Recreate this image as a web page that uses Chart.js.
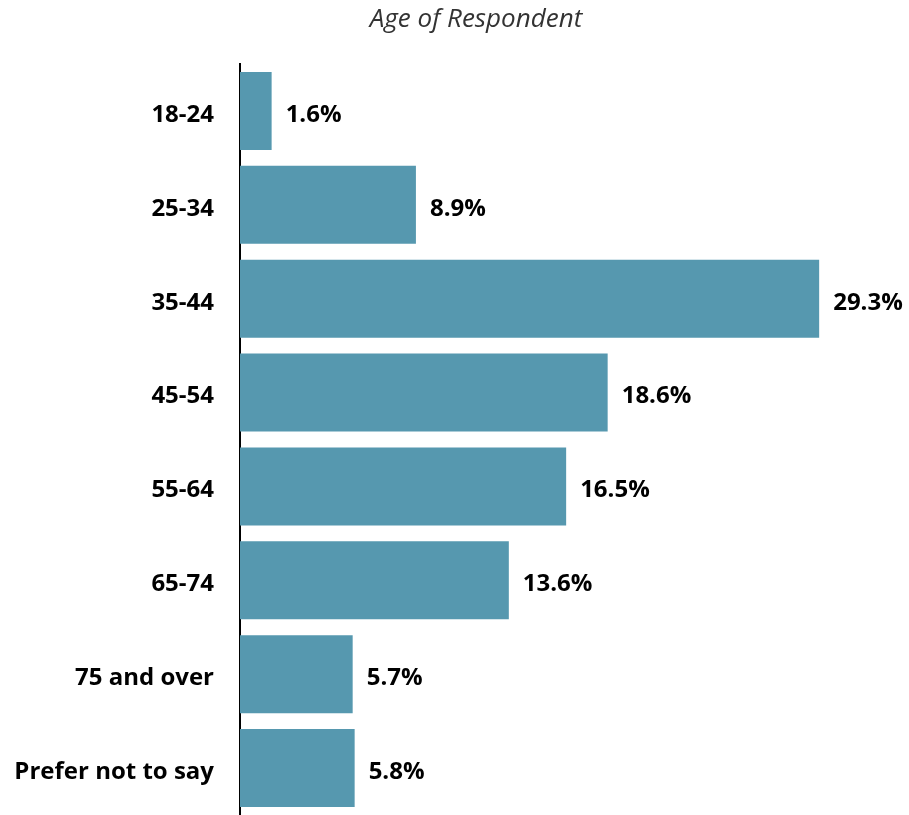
<!DOCTYPE html>
<html>
<head>
<meta charset="utf-8">
<script src="https://cdn.jsdelivr.net/npm/chart.js@4.4.1/dist/chart.umd.min.js"></script>
<style>
html,body{margin:0;padding:0;background:#fff;overflow:hidden;}
canvas{display:block;}
</style>
</head>
<body>
<canvas id="c" width="909" height="815" style="width:909px;height:815px;"></canvas>
<script>
const titleText = "Age of Respondent";
const categories = ["18-24","25-34","35-44","45-54","55-64","65-74","75 and over","Prefer not to say"];
const values = [1.6, 8.9, 29.3, 18.6, 16.5, 13.6, 5.7, 5.8];
const valueLabels = ["1.6%","8.9%","29.3%","18.6%","16.5%","13.6%","5.7%","5.8%"];

const FONT = "'Open Sans', 'Noto Sans', sans-serif";

const titlePlugin = {
  id: 'customTitle',
  afterDraw(chart) {
    const ctx = chart.ctx;
    ctx.save();
    ctx.font = "italic 26px " + FONT;
    ctx.fillStyle = "#333333";
    ctx.textAlign = "center";
    ctx.textBaseline = "middle";
    ctx.fillText(titleText, 476, 20);
    ctx.restore();
  }
};

const valuePlugin = {
  id: 'valueLabels',
  afterDatasetsDraw(chart) {
    const ctx = chart.ctx;
    const meta = chart.getDatasetMeta(0);
    ctx.save();
    ctx.font = "bold 24px " + FONT;
    ctx.fillStyle = "#000000";
    ctx.textAlign = "left";
    ctx.textBaseline = "middle";
    meta.data.forEach((bar, i) => {
      ctx.fillText(valueLabels[i], bar.x + 14, bar.y + 4);
    });
    ctx.restore();
  }
};

new Chart(document.getElementById('c'), {
  type: 'bar',
  data: {
    labels: categories,
    datasets: [{
      data: values,
      backgroundColor: '#5698AF',
      borderWidth: 0,
      barPercentage: 0.83,
      categoryPercentage: 1
    }]
  },
  options: {
    indexAxis: 'y',
    responsive: false,
    maintainAspectRatio: false,
    animation: false,
    devicePixelRatio: 1,
    layout: { padding: { top: 64, right: 76, bottom: 0, left: 0 } },
    plugins: {
      legend: { display: false },
      tooltip: { enabled: false },
      title: { display: false }
    },
    scales: {
      x: {
        display: false,
        min: 0,
        max: 30
      },
      y: {
        afterFit(s) { s.width = 240; s.paddingTop = 0; s.paddingBottom = 0; },
        grid: { display: false, drawTicks: false },
        border: { display: true, color: '#000000', width: 2 },
        ticks: {
          padding: 26,
          labelOffset: 4,
          color: '#000000',
          font: { family: FONT, size: 24, weight: 'bold' }
        }
      }
    }
  },
  plugins: [titlePlugin, valuePlugin]
});
</script>
</body>
</html>
